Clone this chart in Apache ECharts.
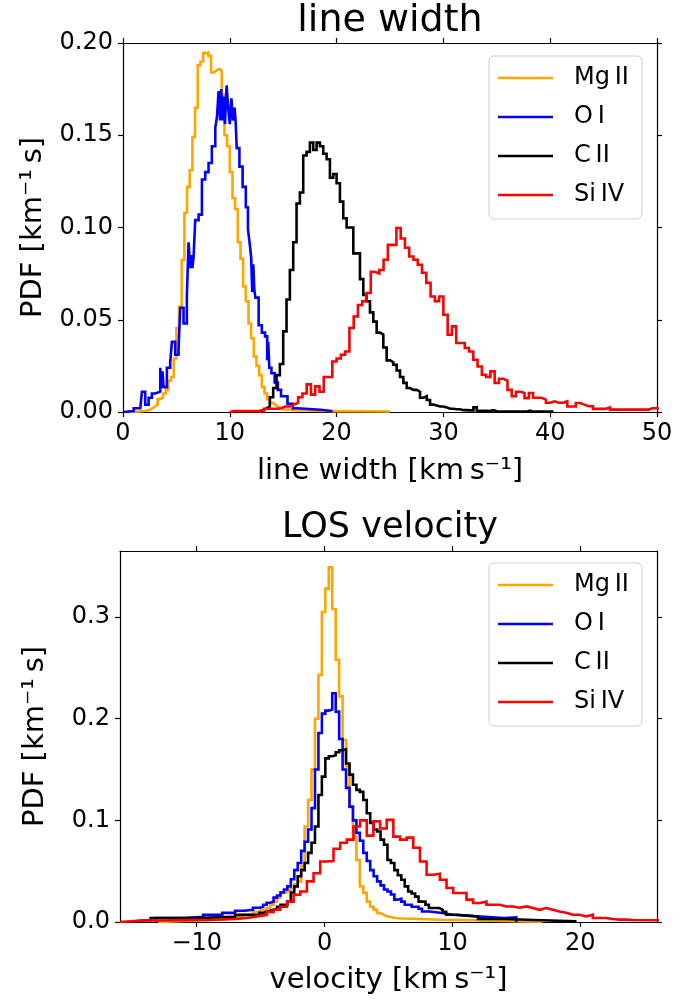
<!DOCTYPE html>
<html><head><meta charset="utf-8">
<script src="https://cdn.jsdelivr.net/npm/echarts@6/dist/echarts.min.js"></script>
<style>html,body{margin:0;padding:0;background:#fff}#c{width:698px;height:1003px}</style>
</head><body><div id="c"></div>
<script>
// ---------- labels ----------
const seriesNames = ['Mg\u2009II', 'O\u2009I', 'C\u2009II', 'Si\u2009IV'];
const seriesColors = ['#ffa500', '#0000ff', '#000000', '#ff0000'];
const titles = ['line width', 'LOS velocity'];
const xNames = ['line width [km\u2009s\u207B\u00B9]', 'velocity [km\u2009s\u207B\u00B9]'];
const yName = 'PDF [km\u207B\u00B9\u2009s]';

// ---------- tick values ----------
const widthXTicks = [0, 10, 20, 30, 40, 50];
const widthYTicks = [0, 0.05, 0.10, 0.15, 0.20];
const velXTicks = [-10, 0, 10, 20];
const velYTicks = [0, 0.1, 0.2, 0.3];

// ---------- top panel: line width histograms ([bin left edge, pdf], last = right edge) ----------
const widthMgII = [[0.5,0.0002],[1.0,0.0003],[1.5,0.0005],[2.0,0.0008],[2.25,0.001],[2.5,0.002],[2.75,0.003],[3.0,0.004],[3.25,0.007],[3.5,0.008],[3.75,0.010],[4.0,0.012],[4.25,0.017],[4.5,0.019],[4.75,0.029],[5.0,0.0455],[5.25,0.057],[5.5,0.0825],[5.75,0.108],[6.0,0.122],[6.25,0.131],[6.5,0.149],[6.75,0.165],[7.0,0.188],[7.25,0.190],[7.5,0.1945],[7.75,0.195],[8.0,0.193],[8.25,0.184],[8.5,0.185],[8.75,0.186],[9.0,0.185],[9.25,0.172],[9.5,0.150],[9.75,0.144],[10.0,0.130],[10.25,0.116],[10.5,0.110],[10.75,0.092],[11.0,0.083],[11.25,0.068],[11.5,0.060],[11.75,0.048],[12.0,0.040],[12.25,0.030],[12.5,0.025],[12.75,0.020],[13.0,0.0135],[13.25,0.010],[13.5,0.007],[13.75,0.005],[14.0,0.004],[14.25,0.003],[14.5,0.002],[14.75,0.0015],[15.0,0.001],[16.0,0.0007],[18.0,0.0005],[20.0,0.0004],[22.0,0.0003],[25.0,0]];
const widthOI = [[0.05,0.0005],[1.0,0.002],[1.62,0.003],[1.77,0.011],[2.08,0.004],[2.4,0.0077],[2.71,0.010],[3.02,0.011],[3.49,0.024],[3.6,0.013],[3.7,0.022],[3.8,0.0135],[4.11,0.024],[4.42,0.027],[4.58,0.038],[4.89,0.031],[5.2,0.034],[5.36,0.0565],[5.67,0.048],[5.98,0.063],[6.14,0.092],[6.3,0.078],[6.4,0.085],[6.5,0.078],[6.61,0.084],[6.76,0.104],[7.08,0.107],[7.39,0.126],[7.7,0.130],[8.01,0.135],[8.32,0.144],[8.64,0.154],[8.8,0.160],[8.95,0.174],[9.1,0.158],[9.2,0.175],[9.3,0.158],[9.4,0.171],[9.55,0.156],[9.7,0.177],[9.85,0.165],[10.0,0.156],[10.15,0.170],[10.3,0.158],[10.45,0.165],[10.55,0.157],[10.65,0.143],[10.9,0.133],[11.2,0.122],[11.5,0.111],[11.7,0.099],[11.85,0.092],[12.0,0.084],[12.1,0.065],[12.2,0.080],[12.3,0.066],[12.4,0.062],[12.7,0.047],[13.0,0.043],[13.3,0.041],[13.5,0.028],[13.6,0.038],[13.7,0.024],[13.9,0.021],[14.2,0.016],[14.5,0.012],[14.8,0.0085],[15.4,0.0045],[15.9,0.002],[16.3,0.0012],[18.5,0.0005],[19.5,0]];
const widthCIIStart = 12.5, widthCIIBin = 0.3125;
const widthCII = [0.0005,0.001,0.002,0.003,0.008,0.013,0.020,0.026,0.0437,0.061,
  0.077,0.092,0.113,0.119,0.139,0.141,0.146,0.142,0.146,0.144,
  0.140,0.137,0.127,0.129,0.124,0.114,0.105,0.100,0.100,0.086,
  0.086,0.072,0.0635,0.060,0.054,0.049,0.043,0.042,0.035,0.028,
  0.027,0.0256,0.0225,0.019,0.0158,0.013,0.012,0.012,0.011,0.0077,
  0.0085,0.0065,0.004,0.0035,0.003,0.003,0.0025,0.0018,0.0018,0.0015,
  0.0015,0.001,0.001,0.0009,0.0009,0.0025,0.0006,0.0006,0.0006,0.0005,
  0.001,0.0004,0.0003,0.0003,0.0003,0.0003,0.0003,0.0003,0.0003,0.0003,
  0.0003,0.0008,0.0002,0.0002,0.0002,0.0002,0.0002,0.0002,0.0002];
const widthSiIVStart = 10, widthSiIVBin = 0.4;
const widthSiIV = [0.0005,0.0005,0.0005,0.0005,0.0005,0.0005,0.0005,0.0005,
  0.0018,0.0018,0.0018,0.002,0.003,0.003,0.004,0.005,
  0.008,0.010,0.015,0.0094,0.0139,0.011,0.019,0.019,
  0.0274,0.029,0.031,0.0328,0.0455,0.0518,0.058,0.060,
  0.0645,0.076,0.075,0.077,0.0825,0.0906,0.0906,0.0997,
  0.094,0.089,0.0843,0.0825,0.0798,0.0755,0.070,0.0626,
  0.060,0.0626,0.0527,0.0419,0.0464,0.0374,0.0374,0.0347,
  0.0328,0.0283,0.0247,0.0202,0.019,0.022,0.0157,0.018,
  0.017,0.012,0.0085,0.011,0.0103,0.0075,0.0103,0.0077,
  0.0077,0.0067,0.005,0.0058,0.005,0.005,0.0058,0.003,
  0.003,0.0049,0.004,0.0031,0.0031,0.0017,0.0017,0.0017,
  0.0025,0.0013,0.0013,0.0013,0.0013,0.0013,0.0013,0.0013,
  0.0013,0.0013,0.002,0.002,0.0015];

// ---------- bottom panel: LOS velocity histograms ([bin left edge, pdf], last = right edge) ----------
const velMgII = [[-13,0.001],[-11,0.002],[-9,0.003],[-7.5,0.005],[-6.5,0.007],[-5.6,0.010],[-5.0,0.012],[-4.53,0.014],[-4.26,0.017],[-3.99,0.020],[-3.72,0.024],[-3.45,0.029],[-3.18,0.029],[-2.91,0.031],[-2.64,0.033],[-2.37,0.037],[-2.1,0.040],[-1.83,0.055],[-1.56,0.094],[-1.29,0.120],[-1.02,0.150],[-0.75,0.200],[-0.48,0.243],[-0.21,0.305],[0.06,0.328],[0.33,0.349],[0.6,0.308],[0.87,0.258],[1.14,0.222],[1.41,0.179],[1.68,0.153],[1.95,0.113],[2.22,0.084],[2.49,0.061],[2.76,0.035],[3.03,0.0287],[3.3,0.020],[3.57,0.015],[3.84,0.012],[4.11,0.0088],[4.38,0.007],[4.65,0.0055],[4.92,0.005],[5.19,0.004],[5.46,0.0035],[6.0,0.003],[7.5,0.0022],[9,0.0018],[11,0.0012],[13,0.0008],[15,0.0004],[17,0]];
const velOI = [[-13.2,0.004],[-11,0.005],[-9.5,0.007],[-8,0.009],[-7,0.011],[-6.3,0.012],[-5.6,0.014],[-5.07,0.015],[-4.8,0.017],[-4.53,0.019],[-4.26,0.020],[-3.99,0.024],[-3.72,0.026],[-3.45,0.029],[-3.18,0.032],[-2.91,0.035],[-2.64,0.042],[-2.37,0.051],[-2.1,0.058],[-1.83,0.070],[-1.56,0.079],[-1.29,0.091],[-1.02,0.112],[-0.75,0.150],[-0.48,0.186],[-0.21,0.205],[0.06,0.208],[0.33,0.209],[0.6,0.225],[0.87,0.207],[1.14,0.180],[1.41,0.150],[1.68,0.132],[1.95,0.1135],[2.22,0.100],[2.49,0.0877],[2.76,0.080],[3.03,0.068],[3.3,0.060],[3.57,0.051],[3.84,0.045],[4.11,0.040],[4.38,0.036],[4.65,0.032],[4.92,0.030],[5.19,0.027],[5.46,0.022],[5.73,0.023],[6.0,0.020],[6.27,0.017],[6.54,0.017],[6.81,0.015],[7.08,0.015],[7.35,0.013],[7.62,0.0104],[7.89,0.0104],[8.2,0.0088],[9.2,0.0072],[10,0.0055],[11.9,0.004],[14,0.0045],[15,0]];
const velCII = [[-15.2,0.001],[-14.6,0.002],[-13.6,0.004],[-10,0.005],[-7,0.007],[-5.1,0.009],[-4.8,0.010],[-4.53,0.011],[-4.26,0.012],[-3.99,0.013],[-3.72,0.015],[-3.45,0.017],[-3.18,0.017],[-2.91,0.020],[-2.64,0.029],[-2.37,0.035],[-2.1,0.045],[-1.83,0.051],[-1.56,0.058],[-1.29,0.068],[-1.02,0.078],[-0.75,0.094],[-0.48,0.125],[-0.21,0.143],[0.06,0.161],[0.33,0.163],[0.6,0.164],[0.87,0.167],[1.14,0.169],[1.41,0.170],[1.68,0.156],[1.95,0.145],[2.22,0.135],[2.49,0.130],[2.76,0.128],[3.03,0.120],[3.3,0.107],[3.57,0.0975],[3.84,0.091],[4.11,0.089],[4.38,0.081],[4.65,0.076],[4.92,0.061],[5.19,0.058],[5.46,0.051],[5.73,0.046],[6.0,0.0415],[6.27,0.035],[6.54,0.030],[6.81,0.028],[7.08,0.025],[7.35,0.020],[7.62,0.020],[7.89,0.017],[8.16,0.0137],[8.43,0.0137],[8.7,0.0137],[8.97,0.012],[9.24,0.010],[9.51,0.0072],[10.4,0.0055],[12,0.003],[14,0.0017],[17,0.0007],[19.6,0]];
const velSiIV = [[-16,0.0016],[-14,0.0015],[-13,0.0018],[-11,0.002],[-9,0.003],[-7,0.004],[-6.06,0.005],[-5.54,0.006],[-5.02,0.007],[-4.5,0.010],[-3.98,0.012],[-3.46,0.015],[-2.94,0.020],[-2.42,0.0268],[-1.9,0.030],[-1.38,0.040],[-0.86,0.048],[-0.34,0.0595],[0.18,0.060],[0.7,0.072],[1.22,0.078],[1.74,0.081],[2.26,0.094],[2.78,0.100],[3.3,0.085],[3.82,0.099],[4.34,0.092],[4.86,0.1005],[5.38,0.084],[5.9,0.081],[6.42,0.083],[6.94,0.073],[7.46,0.0595],[7.98,0.0465],[8.5,0.0475],[9.02,0.0415],[9.54,0.0334],[10.06,0.0285],[10.58,0.0285],[11.1,0.022],[11.62,0.0187],[12.14,0.020],[12.66,0.017],[13.18,0.017],[13.7,0.0153],[14.22,0.0153],[14.74,0.014],[15.26,0.0153],[15.78,0.0137],[16.3,0.012],[16.82,0.0137],[17.34,0.012],[17.86,0.0104],[18.38,0.009],[18.9,0.0072],[19.42,0.0072],[19.94,0.0055],[20.46,0.0072],[20.98,0.0039],[21.5,0.0039],[22.02,0.003],[22.54,0.0023],[23.06,0.0023],[23.58,0.002],[24.1,0.0016],[26.5,0]];

// ---------- helpers ----------
function uniformBins(start, bin, vals) {
  const out = vals.map((v, i) => [+(start + i * bin).toFixed(5), v]);
  out.push([+(start + vals.length * bin).toFixed(5), 0]);
  return out;
}
function stepData(pairs) { return [[pairs[0][0], 0]].concat(pairs); }

const FONT = 'DejaVu Sans';
const LW = 2.6;
const topSets = [widthMgII, widthOI, uniformBins(widthCIIStart, widthCIIBin, widthCII), uniformBins(widthSiIVStart, widthSiIVBin, widthSiIV)];
const botSets = [velMgII, velOI, velCII, velSiIV];

const series = [];
function addSeries(d, i, xi, yi) {
  series.push({
    type: 'line', name: seriesNames[i], xAxisIndex: xi, yAxisIndex: yi, data: stepData(d), step: 'end',
    symbol: 'none', showSymbol: false, animation: false, clip: true,
    lineStyle: { color: seriesColors[i], width: LW, join: 'miter' }, itemStyle: { color: seriesColors[i] }
  });
}
topSets.forEach((d, i) => addSeries(d, i, 0, 0));
botSets.forEach((d, i) => addSeries(d, i, 2, 2));

const axisLine = { show: true, onZero: false, lineStyle: { color: '#000', width: 1.2 } };
const tickStyle = { show: true, inside: false, length: 5, lineStyle: { color: '#000', width: 1.2 } };
const labelStyle = { color: '#000', fontSize: 24, fontFamily: FONT };
const nameStyle = { color: '#000', fontSize: 29, fontFamily: FONT };
const minusFmt = v => (v < 0 ? '\u2212' + Math.abs(v) : String(v));

const legendBase = {
  orient: 'vertical', data: seriesNames, icon: 'rect', itemWidth: 55, itemHeight: 2.6, itemGap: 15,
  padding: [10, 13, 12, 9], borderColor: '#cccccc', borderWidth: 1, borderRadius: 5,
  backgroundColor: 'rgba(255,255,255,0.8)', selectedMode: false,
  textStyle: { color: '#000', fontSize: 24, fontFamily: FONT, lineHeight: 24, padding: [0, 0, 0, 16] }
};

const option = {
  backgroundColor: '#fff',
  animation: false,
  title: [
    { text: titles[0], left: 390, top: 2, textAlign: 'center', padding: 0,
      textStyle: { fontSize: 38, fontWeight: 'normal', fontFamily: FONT, color: '#000' } },
    { text: titles[1], left: 390, top: 510, textAlign: 'center', padding: 0,
      textStyle: { fontSize: 35, fontWeight: 'normal', fontFamily: FONT, color: '#000' } }
  ],
  legend: [
    Object.assign({}, legendBase, { left: 489, top: 56 }),
    Object.assign({}, legendBase, { left: 489, top: 563 })
  ],
  grid: [
    { left: 123, top: 43, width: 534, height: 369, containLabel: false },
    { left: 120, top: 551, width: 537, height: 371, containLabel: false }
  ],
  xAxis: [
    { type: 'value', gridIndex: 0, position: 'bottom', min: 0, max: 50, interval: 10,
      axisLine, axisTick: tickStyle, splitLine: { show: false },
      axisLabel: Object.assign({ margin: 10, customValues: widthXTicks, formatter: minusFmt }, labelStyle),
      name: xNames[0], nameLocation: 'middle', nameGap: 45, nameTextStyle: nameStyle },
    { type: 'value', gridIndex: 0, position: 'top', min: 0, max: 50, interval: 10,
      axisLine, axisTick: tickStyle, splitLine: { show: false }, axisLabel: { show: false } },
    { type: 'value', gridIndex: 1, position: 'bottom', min: -16, max: 26,
      axisLine, axisTick: Object.assign({ customValues: velXTicks }, tickStyle), splitLine: { show: false },
      axisLabel: Object.assign({ margin: 10, customValues: velXTicks, formatter: minusFmt }, labelStyle),
      name: xNames[1], nameLocation: 'middle', nameGap: 44, nameTextStyle: nameStyle },
    { type: 'value', gridIndex: 1, position: 'top', min: -16, max: 26,
      axisLine, axisTick: Object.assign({ customValues: velXTicks }, tickStyle), splitLine: { show: false },
      axisLabel: { show: false } }
  ],
  yAxis: [
    { type: 'value', gridIndex: 0, position: 'left', min: 0, max: 0.2, interval: 0.05,
      axisLine, axisTick: tickStyle, splitLine: { show: false },
      axisLabel: Object.assign({ margin: 10, formatter: v => v.toFixed(2) }, labelStyle),
      name: yName, nameLocation: 'middle', nameRotate: 90, nameGap: 75, nameTextStyle: nameStyle },
    { type: 'value', gridIndex: 0, position: 'right', min: 0, max: 0.2, interval: 0.05,
      axisLine, axisTick: tickStyle, splitLine: { show: false }, axisLabel: { show: false } },
    { type: 'value', gridIndex: 1, position: 'left', min: 0, max: 0.365,
      axisLine, axisTick: Object.assign({ customValues: velYTicks }, tickStyle), splitLine: { show: false },
      axisLabel: Object.assign({ margin: 10, customValues: velYTicks, formatter: v => v.toFixed(1) }, labelStyle),
      name: yName, nameLocation: 'middle', nameRotate: 90, nameGap: 70, nameTextStyle: nameStyle },
    { type: 'value', gridIndex: 1, position: 'right', min: 0, max: 0.365,
      axisLine, axisTick: Object.assign({ customValues: velYTicks }, tickStyle), splitLine: { show: false },
      axisLabel: { show: false } }
  ],
  series
};

const chart = echarts.init(document.getElementById('c'), null, { renderer: 'canvas' });
chart.setOption(option);
</script>
</body></html>
